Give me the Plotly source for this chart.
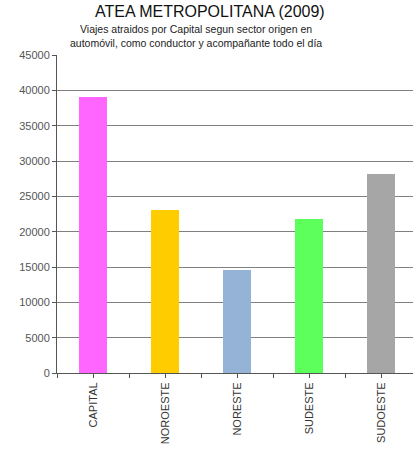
import plotly.graph_objects as go

# Trips attracted by Capital, by origin sector (car, driver + passenger, full day)
categories = ["CAPITAL", "NOROESTE", "NORESTE", "SUDESTE", "SUDOESTE"]
viajes = [39000, 23100, 14600, 21800, 28100]
bar_colors = ["#FF66FF", "#FFCC00", "#95B3D7", "#5CFF5C", "#A6A6A6"]
y_ticks = list(range(0, 45001, 5000))

W, H = 413, 457
L, R, T, B = 57, 0, 55, 84

x_pos = list(range(len(categories)))

fig = go.Figure(
    go.Bar(
        x=x_pos,
        y=viajes,
        width=0.4,
        marker=dict(color=bar_colors, line=dict(width=0)),
        showlegend=False,
        hoverinfo="skip",
    )
)

font_family = "Liberation Sans, Arial, sans-serif"

fig.update_layout(
    width=W,
    height=H,
    margin=dict(l=L, r=R, t=T, b=B, pad=0),
    paper_bgcolor="white",
    plot_bgcolor="white",
    font=dict(family=font_family, color="#333333"),
    bargap=0,
)

fig.update_xaxes(
    range=[-0.5, 4.444],
    tickmode="array",
    tickvals=x_pos,
    ticktext=categories,
    tickangle=-90,
    tickfont=dict(size=11, color="#333333"),
    ticks="outside",
    ticklen=4,
    tickcolor="#555555",
    showline=True,
    linecolor="#555555",
    linewidth=1,
    showgrid=False,
    zeroline=False,
    minor=dict(
        tickmode="array",
        tickvals=[i - 0.5 for i in range(len(categories) + 1)],
        ticks="outside",
        ticklen=4,
        tickcolor="#555555",
        showgrid=False,
    ),
)

fig.update_yaxes(
    range=[0, 45000],
    tickmode="array",
    tickvals=y_ticks,
    ticktext=[str(v) for v in y_ticks],
    tickfont=dict(size=11, color="#555555"),
    ticks="outside",
    ticklen=4,
    tickcolor="#555555",
    showline=True,
    linecolor="#555555",
    linewidth=1,
    showgrid=True,
    gridcolor="#808080",
    gridwidth=1,
    zeroline=False,
)

plot_w = W - L - R
plot_h = H - T - B


def px_x(px):
    return (px - L) / plot_w


def px_y(py):
    return (H - B - py) / plot_h


fig.add_annotation(
    text="ATEA METROPOLITANA (2009)",
    xref="paper", yref="paper",
    x=px_x(210), y=px_y(0.5),
    xanchor="center", yanchor="top",
    showarrow=False,
    font=dict(size=16, color="#111111", family=font_family),
)
fig.add_annotation(
    text=("Viajes atraidos por Capital segun sector origen en<br>"
          "automóvil, como conductor y acompañante todo el día"),
    xref="paper", yref="paper",
    x=px_x(196), y=px_y(21),
    xanchor="center", yanchor="top",
    align="center",
    showarrow=False,
    font=dict(size=10.5, color="#222222", family=font_family),
)

fig.write_html("out.html")
